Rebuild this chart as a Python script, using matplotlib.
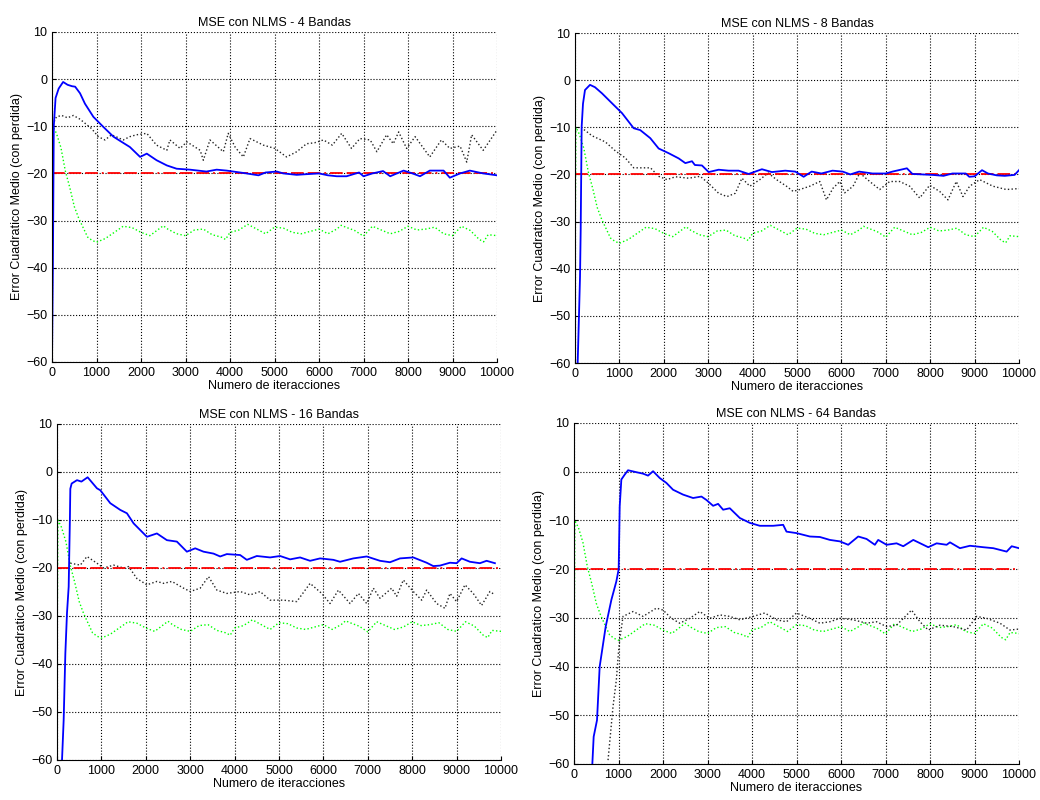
import matplotlib
matplotlib.use("Agg")
import matplotlib.pyplot as plt

plt.rcParams['font.family'] = ['Liberation Sans', 'DejaVu Sans']

titles = ["MSE con NLMS - 4 Bandas", "MSE con NLMS - 8 Bandas",
          "MSE con NLMS - 16 Bandas", "MSE con NLMS - 64 Bandas"]
xlabel = "Numero de iteracciones"
ylabel = "Error Cuadratico Medio (con perdida)"
x_ticks = list(range(0, 10001, 1000))
y_ticks = list(range(-60, 11, 10))
ref_level = -20

# green (dotted) curve, common to all panels
green = [(0, -40), (20, -10), (100, -11.5), (200, -14.5), (300, -19.5), (400, -23), (500, -27),
         (600, -29.5), (700, -31.5), (800, -33.5), (900, -34.2), (1000, -34.6), (1200, -33.8),
         (1400, -32.5), (1600, -31.2), (1800, -31.5), (2000, -32.5), (2200, -33.2), (2400, -31.8),
         (2500, -31.1), (2600, -31.8), (2800, -32.8), (3000, -33.2), (3200, -32.0), (3400, -31.8),
         (3600, -33.0), (3800, -33.5), (3900, -34.0), (4000, -32.5), (4200, -32.0), (4400, -30.8),
         (4600, -31.8), (4800, -32.8), (5000, -31.4), (5200, -31.6), (5400, -32.5), (5600, -32.8),
         (5800, -32.3), (6000, -31.8), (6200, -32.8), (6400, -31.8), (6500, -31.0), (6600, -31.4),
         (6800, -32.1), (7000, -33.3), (7200, -31.2), (7400, -32.0), (7600, -32.8), (7800, -32.3),
         (8000, -31.2), (8200, -32.0), (8400, -31.8), (8600, -31.4), (8800, -32.8), (9000, -33.2),
         (9200, -31.2), (9400, -32.1), (9600, -34.0), (9700, -34.5), (9800, -33.0), (10000, -33.2)]

# 4 bandas
b4_blue = [(0, -60), (20, -40), (40, -10), (80, -4), (150, -2), (250, -0.6), (350, -1.2), (450, -1.5),
           (520, -1.6), (630, -3.0), (740, -5.2), (930, -8.0), (1150, -10.1), (1380, -12.2), (1530, -13.1),
           (1750, -14.4), (1980, -16.5), (2130, -15.8), (2350, -17.2), (2580, -18.3), (2800, -19.0),
           (3100, -19.2), (3470, -19.6), (3700, -19.2), (3925, -19.4), (4300, -19.9), (4640, -20.4),
           (4800, -19.8), (5050, -19.6), (5200, -20.0), (5500, -20.3), (5650, -20.2), (6000, -20.0),
           (6200, -20.4), (6400, -20.6), (6620, -20.6), (6900, -19.8), (7000, -20.6), (7200, -20.0),
           (7440, -19.5), (7600, -20.6), (7900, -19.4), (8100, -20.0), (8270, -20.6), (8490, -19.4),
           (8800, -19.4), (8940, -20.9), (9170, -20.0), (9390, -19.4), (9690, -20.0), (10000, -20.4)]
b4_black = [(50, -9), (100, -8), (217, -7.7), (350, -8.2), (480, -7.7), (630, -8.5), (890, -10.5),
            (1040, -12.2), (1190, -12.9), (1340, -11.8), (1600, -12.9), (1750, -12.2), (1900, -11.8),
            (2130, -11.5), (2350, -14.0), (2580, -15.1), (2650, -12.9), (2880, -14.7), (3030, -13.3),
            (3330, -15.1), (3400, -17.2), (3550, -12.9), (3850, -15.4), (3960, -11.5), (4120, -14.5),
            (4300, -16.5), (4450, -12.6), (4750, -14.0), (5010, -14.7), (5270, -16.5), (5500, -15.4),
            (5720, -13.7), (5900, -13.5), (6100, -12.9), (6300, -14.0), (6510, -11.5), (6730, -14.7),
            (6920, -12.6), (7150, -12.9), (7300, -15.4), (7520, -11.8), (7670, -13.7), (7790, -11.2),
            (7970, -14.7), (8160, -12.2), (8490, -16.5), (8750, -12.9), (8940, -14.7), (9170, -14.2),
            (9320, -17.6), (9430, -11.8), (9690, -15.1), (9900, -12.2), (10000, -10.8)]

# 8 bandas
b8_blue = [(60, -60), (75, -55), (113, -41.7), (128, -31.9), (150, -9.9), (180, -5), (225, -2.1),
           (338, -1.0), (450, -1.5), (608, -2.8), (833, -4.9), (1059, -7.0), (1322, -10.2), (1470, -10.6),
           (1695, -12.3), (1884, -14.5), (2110, -15.5), (2335, -16.6), (2485, -17.6), (2635, -17.2),
           (2700, -18.0), (2860, -18.1), (3010, -19.5), (3235, -19.0), (3460, -19.2), (3685, -19.2),
           (3910, -19.9), (4210, -18.9), (4435, -19.5), (4735, -19.2), (4962, -19.4), (5150, -20.5),
           (5330, -19.4), (5550, -19.8), (5800, -19.2), (6030, -19.4), (6200, -20.0), (6400, -19.4),
           (6700, -19.8), (7000, -19.8), (7150, -19.4), (7475, -18.7), (7600, -19.9), (8050, -20.1),
           (8300, -20.3), (8500, -19.8), (8800, -19.8), (8880, -20.5), (9000, -20.4), (9167, -19.1),
           (9300, -19.8), (9500, -20.2), (9680, -20.3), (9900, -20.1), (10000, -19.1)]
b8_black = [(200, -10.5), (233, -10.7), (383, -11.8), (683, -13.1), (908, -15.0), (1133, -16.5),
            (1322, -18.6), (1509, -18.6), (1700, -18.6), (1884, -20.4), (2072, -21.1), (2260, -20.5),
            (2560, -20.8), (2820, -20.4), (3010, -21.9), (3235, -24.0), (3423, -24.7), (3610, -24.0),
            (3760, -20.8), (3938, -22.5), (4163, -21.1), (4350, -19.7), (4538, -21.1), (4763, -22.5),
            (4913, -23.6), (5063, -23.2), (5288, -22.5), (5513, -21.5), (5663, -25.4), (5813, -22.9),
            (5963, -21.5), (6075, -23.9), (6263, -22.5), (6413, -19.7), (6638, -21.5), (6863, -23.2),
            (7088, -21.5), (7313, -21.5), (7538, -22.5), (7763, -25.0), (7988, -22.3), (8213, -23.6),
            (8400, -25.4), (8588, -21.5), (8738, -24.7), (8888, -22.5), (9113, -21.1), (9413, -22.5),
            (9713, -23.2), (10000, -23.0)]

# 16 bandas
b16_blue = [(113, -60), (150, -51.7), (188, -37.8), (225, -29.4), (263, -23.9), (290, -10), (300, -3.5),
            (330, -2.4), (450, -1.7), (550, -2.0), (690, -1.1), (900, -3.4), (975, -3.8), (1200, -6.5),
            (1425, -7.9), (1575, -8.6), (1725, -10.7), (2025, -13.5), (2250, -12.8), (2475, -14.2),
            (2700, -14.5), (2925, -16.6), (3113, -15.9), (3300, -16.6), (3525, -17.0), (3675, -17.6),
            (3825, -17.1), (4125, -17.3), (4275, -18.3), (4500, -17.5), (4800, -17.8), (5025, -17.5),
            (5250, -18.2), (5475, -17.8), (5700, -18.5), (5925, -18.0), (6225, -18.3), (6375, -18.7),
            (6675, -18.0), (6975, -17.6), (7275, -18.5), (7500, -18.8), (7725, -18.0), (8025, -17.8),
            (8325, -18.9), (8475, -19.6), (8625, -19.5), (8850, -18.9), (9000, -19.0), (9113, -18.0),
            (9300, -18.7), (9525, -19.0), (9675, -18.5), (9863, -19.0)]
b16_black = [(300, -19.0), (525, -19.4), (675, -17.6), (900, -19.0), (1050, -20.0), (1275, -19.4),
             (1500, -20.0), (1613, -19.7), (1800, -22.2), (2025, -23.5), (2250, -22.8), (2400, -23.2),
             (2588, -22.8), (2850, -24.2), (3000, -24.9), (3225, -24.2), (3413, -21.8), (3600, -24.6),
             (3825, -25.3), (4125, -24.9), (4350, -25.6), (4575, -24.9), (4800, -26.7), (5100, -26.7),
             (5400, -27.0), (5700, -23.2), (5963, -25.3), (6150, -27.4), (6338, -24.6), (6600, -27.4),
             (6788, -25.3), (6975, -27.4), (7125, -24.2), (7275, -26.3), (7538, -24.2), (7650, -25.9),
             (7800, -22.5), (8025, -24.9), (8213, -26.7), (8325, -24.6), (8550, -27.4), (8738, -28.4),
             (8850, -25.3), (9000, -27.0), (9188, -23.5), (9375, -25.3), (9563, -27.8), (9750, -24.9),
             (9863, -25.6)]

# 64 bandas
b64_blue = [(412, -60), (442, -54.4), (517, -51), (577, -40), (712, -31.8), (840, -26.3), (952, -22.5),
            (1004, -20), (1027, -7.1), (1064, -1.6), (1139, -0.6), (1214, 0.3), (1402, -0.1), (1552, -0.4),
            (1664, -0.8), (1777, 0.1), (1927, -1.3), (2076, -2.3), (2226, -3.7), (2451, -4.7), (2676, -5.4),
            (2864, -5.1), (2976, -5.8), (3126, -7.0), (3238, -6.6), (3351, -7.8), (3501, -7.5), (3726, -9.5),
            (3951, -10.5), (4175, -11.1), (4475, -11.1), (4700, -10.9), (4775, -12.3), (5000, -12.6),
            (5300, -13.3), (5525, -13.4), (5750, -14.0), (5975, -14.3), (6162, -15.0), (6387, -13.3),
            (6574, -13.8), (6761, -15.0), (6836, -14.0), (7024, -15.0), (7249, -14.7), (7399, -15.3),
            (7624, -14.0), (7849, -15.0), (7961, -15.5), (8149, -14.7), (8374, -15.0), (8449, -14.5),
            (8673, -15.7), (8898, -15.2), (9198, -15.5), (9423, -15.7), (9723, -16.4), (9836, -15.3),
            (10000, -15.7)]
b64_black = [(765, -59.2), (877, -48.2), (952, -42.7), (997, -37.3), (1027, -34.5), (1102, -29.7),
             (1327, -28.7), (1552, -29.7), (1852, -28.0), (2001, -28.4), (2189, -30.1), (2376, -31.1),
             (2601, -30.1), (2826, -28.7), (3051, -30.1), (3276, -29.4), (3501, -29.7), (3726, -30.4),
             (4025, -29.7), (4288, -29.0), (4550, -30.4), (4775, -30.8), (5000, -29.0), (5300, -30.1),
             (5525, -31.1), (5750, -30.8), (5975, -30.1), (6275, -30.4), (6574, -31.1), (6799, -30.8),
             (7024, -31.8), (7249, -31.5), (7586, -28.4), (7774, -30.8), (7961, -32.5), (8224, -31.5),
             (8524, -31.8), (8823, -32.5), (9048, -29.7), (9273, -30.1), (9573, -31.1), (9798, -32.5),
             (10000, -32.3)]

panels = [
    (titles[0], b4_blue, b4_black, [52, 32, 445, 330]),
    (titles[1], b8_blue, b8_black, [575, 33, 444, 330]),
    (titles[2], b16_blue, b16_black, [57, 424, 444, 336]),
    (titles[3], b64_blue, b64_black, [574, 423, 445, 341]),
]

W, H = 1040, 800
fig = plt.figure(figsize=(W / 100, H / 100), dpi=100)

for title, blue, black, (lx, ty, w, h) in panels:
    ax = fig.add_axes([lx / W, 1 - (ty + h) / H, w / W, h / H])
    gx, gy = zip(*green)
    ax.plot(gx, gy, linestyle=':', color='#00ff00', linewidth=1.0)
    kx, ky = zip(*black)
    ax.plot(kx, ky, linestyle=':', color='#222222', linewidth=1.0)
    ax.plot([0, 10000], [ref_level, ref_level], color='#ff0000', linewidth=1.3,
            dashes=(7, 2.2, 7, 2.2, 7, 2.2, 1, 2.2))
    bx, by = zip(*blue)
    ax.plot(bx, by, color='#0000ff', linewidth=1.3)
    ax.set_xlim(0, 10000)
    ax.set_ylim(-60, 10)
    ax.set_xticks(x_ticks)
    ax.set_yticks(y_ticks)
    ax.grid(True, linestyle=':', color='black', linewidth=0.8)
    ax.spines['top'].set_visible(False)
    ax.spines['right'].set_visible(False)
    ax.tick_params(direction='in', labelsize=9, length=3)
    ax.set_title(title, fontsize=9, pad=4)
    ax.set_xlabel(xlabel, fontsize=9, labelpad=1)
    ax.set_ylabel(ylabel, fontsize=9, labelpad=2)

fig.savefig("out.png", dpi=100)
